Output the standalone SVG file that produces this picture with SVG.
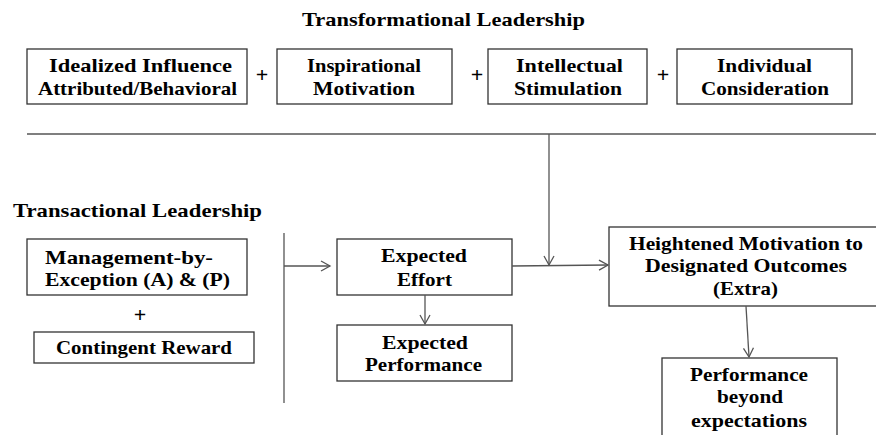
<svg xmlns="http://www.w3.org/2000/svg" width="876" height="435" viewBox="0 0 876 435">
<defs>
<style>
.box{fill:#fff;stroke:#333;stroke-width:1.3}
text{font-family:"Liberation Serif","Times New Roman",serif;font-weight:700;font-size:19px;fill:#000;text-anchor:middle}
.ttl{text-anchor:start}
.p{font-size:22px}
.c{stroke:#555;stroke-width:1.3;fill:none}
</style>
<marker id="ah" markerWidth="12" markerHeight="12" refX="10" refY="6" orient="auto" markerUnits="userSpaceOnUse">
<path d="M1,1 L10,6 L1,11" fill="none" stroke="#555" stroke-width="1.3"/>
</marker>
</defs>
<rect width="876" height="435" fill="#fff"/>

<text class="ttl" x="302" y="26" textLength="283" lengthAdjust="spacingAndGlyphs">Transformational Leadership</text>
<text class="ttl" x="13" y="217" textLength="249" lengthAdjust="spacingAndGlyphs">Transactional Leadership</text>

<g id="idealized">
<rect class="box" x="27" y="49" width="220" height="55"/>
<text x="140.5" y="72" textLength="183" lengthAdjust="spacingAndGlyphs">Idealized Influence</text>
<text x="137.5" y="94.5" textLength="199" lengthAdjust="spacingAndGlyphs">Attributed/Behavioral</text>
</g>
<text class="p" x="262" y="82">+</text>
<g id="inspirational">
<rect class="box" x="277" y="49" width="175" height="55"/>
<text x="364" y="72" textLength="114" lengthAdjust="spacingAndGlyphs">Inspirational</text>
<text x="364" y="94.5" textLength="102" lengthAdjust="spacingAndGlyphs">Motivation</text>
</g>
<text class="p" x="477" y="82">+</text>
<g id="intellectual">
<rect class="box" x="488" y="49" width="159" height="55"/>
<text x="569.5" y="72" textLength="107" lengthAdjust="spacingAndGlyphs">Intellectual</text>
<text x="568" y="94.5" textLength="108" lengthAdjust="spacingAndGlyphs">Stimulation</text>
</g>
<text class="p" x="663" y="82">+</text>
<g id="individual">
<rect class="box" x="677" y="49" width="175" height="55"/>
<text x="764.5" y="72" textLength="95" lengthAdjust="spacingAndGlyphs">Individual</text>
<text x="765" y="94.5" textLength="128" lengthAdjust="spacingAndGlyphs">Consideration</text>
</g>

<g id="management">
<rect class="box" x="27" y="239" width="220" height="56"/>
<text x="129" y="264" textLength="168" lengthAdjust="spacingAndGlyphs">Management-by-</text>
<text x="137.5" y="286" textLength="185" lengthAdjust="spacingAndGlyphs">Exception (A) &amp; (P)</text>
</g>
<text class="p" x="140" y="322">+</text>
<g id="contingent">
<rect class="box" x="34" y="332" width="220" height="31"/>
<text x="144" y="354" textLength="176" lengthAdjust="spacingAndGlyphs">Contingent Reward</text>
</g>

<g id="effort">
<rect class="box" x="337" y="239" width="175" height="56"/>
<text x="424" y="262" textLength="86" lengthAdjust="spacingAndGlyphs">Expected</text>
<text x="424.5" y="285.5" textLength="55" lengthAdjust="spacingAndGlyphs">Effort</text>
</g>
<g id="performance">
<rect class="box" x="337" y="325" width="175" height="56"/>
<text x="425" y="349" textLength="86" lengthAdjust="spacingAndGlyphs">Expected</text>
<text x="423.5" y="371" textLength="117" lengthAdjust="spacingAndGlyphs">Performance</text>
</g>
<g id="heightened">
<rect class="box" x="609" y="227" width="276" height="79"/>
<text x="746" y="249.5" textLength="234" lengthAdjust="spacingAndGlyphs">Heightened Motivation to</text>
<text x="746" y="272" textLength="202" lengthAdjust="spacingAndGlyphs">Designated Outcomes</text>
<text x="745.5" y="294.5" textLength="65" lengthAdjust="spacingAndGlyphs">(Extra)</text>
</g>
<g id="beyond">
<rect class="box" x="662" y="358" width="175" height="90"/>
<text x="749" y="380.5" textLength="118" lengthAdjust="spacingAndGlyphs">Performance</text>
<text x="750" y="403" textLength="66" lengthAdjust="spacingAndGlyphs">beyond</text>
<text x="749" y="426.5" textLength="116" lengthAdjust="spacingAndGlyphs">expectations</text>
</g>

<g id="connectors">
<line class="c" x1="27" y1="134" x2="876" y2="134"/>
<line class="c" x1="549" y1="134" x2="549" y2="265" marker-end="url(#ah)"/>
<line class="c" x1="284" y1="233" x2="284" y2="403"/>
<line class="c" x1="284" y1="266" x2="330" y2="266" marker-end="url(#ah)"/>
<line class="c" x1="425" y1="295" x2="425" y2="324" marker-end="url(#ah)"/>
<line class="c" x1="512" y1="266" x2="608" y2="265" marker-end="url(#ah)"/>
<line class="c" x1="746" y1="306" x2="749" y2="357" marker-end="url(#ah)"/>
</g>
</svg>
